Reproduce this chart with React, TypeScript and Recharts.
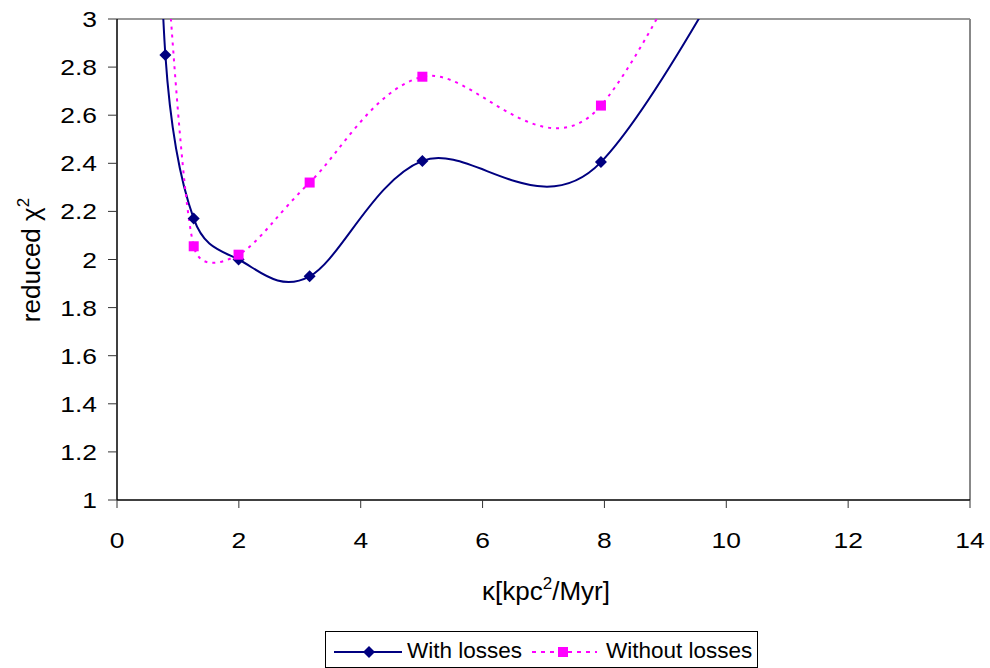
import React from "react";
import { LineChart, Line, XAxis, YAxis, Legend, ReferenceLine, Label } from "recharts";

const FONT = "'Liberation Sans', Arial, sans-serif";

// kappa values sit on a log grid (10^(n/5))
const kappa = [0.501, 0.794, 1.259, 1.995, 3.162, 5.012, 7.943, 12.59];
const withLosses = [5.0, 2.85, 2.17, 2.0, 1.93, 2.41, 2.405, 4.4];
const withoutLosses = [null, 3.3, 2.055, 2.02, 2.32, 2.76, 2.64, 5.0];

const xTicks = [0, 2, 4, 6, 8, 10, 12, 14];
const yTicks = [1, 1.2, 1.4, 1.6, 1.8, 2, 2.2, 2.4, 2.6, 2.8, 3];

const seriesLabel = ["With losses", "Without losses"];

const data = kappa.map((k, i) => ({
  k,
  withLosses: withLosses[i],
  withoutLosses: withoutLosses[i],
}));

const NAVY = "#000080";
const MAGENTA = "#FF00FF";

const dist = (a: number[], b: number[]) => Math.hypot(b[0] - a[0], b[1] - a[1]);

// Excel-like smoothing: bezier handles at 1/6 of the neighbour chord,
// shortened when the neighbour chord is much longer than the segment
const excelSmooth = (context: any) => {
  let pts: number[][] = [];
  return {
    areaStart() {},
    areaEnd() {},
    lineStart() {
      pts = [];
    },
    point(x: number, y: number) {
      pts.push([+x, +y]);
    },
    lineEnd() {
      const n = pts.length;
      if (!n) return;
      context.moveTo(pts[0][0], pts[0][1]);
      for (let i = 0; i < n - 1; i++) {
        const p0 = pts[Math.max(i - 1, 0)];
        const p1 = pts[i];
        const p2 = pts[i + 1];
        const p3 = pts[Math.min(i + 2, n - 1)];
        const d12 = dist(p1, p2);
        const d02 = dist(p0, p2);
        const d13 = dist(p1, p3);
        const f1 = d02 > 0 ? Math.min(1 / 6, (0.5 * d12) / d02) : 0;
        const f2 = d13 > 0 ? Math.min(1 / 6, (0.5 * d12) / d13) : 0;
        context.bezierCurveTo(
          p1[0] + (p2[0] - p0[0]) * f1,
          p1[1] + (p2[1] - p0[1]) * f1,
          p2[0] - (p3[0] - p1[0]) * f2,
          p2[1] - (p3[1] - p1[1]) * f2,
          p2[0],
          p2[1]
        );
      }
    },
  };
};

const Diamond = ({ cx, cy, key }: any) => {
  if (cx == null || cy == null) return null;
  return (
    <path
      key={key}
      d={`M${cx},${cy - 6}L${cx + 6},${cy}L${cx},${cy + 6}L${cx - 6},${cy}Z`}
      fill={NAVY}
    />
  );
};

const Square = ({ cx, cy, key }: any) => {
  if (cx == null || cy == null) return null;
  return <rect key={key} x={cx - 5} y={cy - 5} width={10} height={10} fill={MAGENTA} />;
};

const XTick = ({ x, y, payload }: any) => (
  <text
    transform={`translate(${x},${y + 40}) scale(1.2,1)`}
    textAnchor="middle"
    fontSize={22}
    fontFamily={FONT}
    fill="#000"
  >
    {payload.value}
  </text>
);

const YTick = ({ x, y, payload }: any) => (
  <text
    transform={`translate(${x},${y + 8}) scale(1.2,1)`}
    textAnchor="end"
    fontSize={22}
    fontFamily={FONT}
    fill="#000"
  >
    {payload.value}
  </text>
);

const XTitle = () => (
  <text x={546} y={600} textAnchor="middle" fontSize={26} fontFamily={FONT} fill="#000">
    κ[kpc<tspan dy={-11} fontSize={17}>2</tspan>
    <tspan dy={11}>/Myr]</tspan>
  </text>
);

const YTitle = () => (
  <text
    x={40}
    y={260}
    transform="rotate(-90, 40, 260)"
    textAnchor="middle"
    fontSize={26}
    fontFamily={FONT}
    fill="#000"
  >
    reduced χ<tspan dy={-11} fontSize={17}>2</tspan>
  </text>
);

const LegendBox = () => (
  <div
    style={{
      width: 433,
      height: 37,
      border: "1px solid #000",
      boxSizing: "border-box",
      background: "#fff",
    }}
  >
    <svg width={431} height={35} style={{ display: "block" }}>
      <line x1={8} x2={76} y1={20} y2={20} stroke={NAVY} strokeWidth={2} />
      <path d="M43,14L49,20L43,26L37,20Z" fill={NAVY} />
      <text x={81} y={26} fontSize={22.5} fontFamily={FONT} fill="#000">
        {seriesLabel[0]}
      </text>
      <line
        x1={206}
        x2={271}
        y1={20}
        y2={20}
        stroke={MAGENTA}
        strokeWidth={2}
        strokeDasharray="4 5"
      />
      <rect x={232} y={15} width={10} height={10} fill={MAGENTA} />
      <text x={280} y={26} fontSize={22.5} fontFamily={FONT} fill="#000">
        {seriesLabel[1]}
      </text>
    </svg>
  </div>
);

export default function App() {
  return (
    <div style={{ position: "absolute", left: 0, top: 0, background: "#fff" }}>
      <LineChart
        width={990}
        height={668}
        data={data}
        margin={{ top: 19, right: 20, bottom: 0, left: 0 }}
      >
        <XAxis
          dataKey="k"
          type="number"
          domain={[0, 14]}
          ticks={xTicks}
          allowDataOverflow
          height={131}
          tickSize={8}
          tickMargin={0}
          tick={XTick}
          axisLine={{ stroke: "#000", strokeWidth: 1.5 }}
          tickLine={{ stroke: "#333" }}
        >
          <Label content={XTitle} />
        </XAxis>
        <YAxis
          type="number"
          domain={[1, 3]}
          ticks={yTicks}
          allowDataOverflow
          width={117}
          tickSize={9}
          tickMargin={11}
          tick={YTick}
          axisLine={{ stroke: "#000", strokeWidth: 1.5 }}
          tickLine={{ stroke: "#333" }}
        >
          <Label content={YTitle} />
        </YAxis>
        <ReferenceLine y={3} stroke="#999" strokeWidth={2} />
        <ReferenceLine x={14} stroke="#888" strokeWidth={2} />
        <Line
          dataKey="withLosses"
          name={seriesLabel[0]}
          type={excelSmooth as any}
          stroke={NAVY}
          strokeWidth={2}
          dot={Diamond}
          activeDot={false}
          isAnimationActive={false}
        />
        <Line
          dataKey="withoutLosses"
          name={seriesLabel[1]}
          type={excelSmooth as any}
          stroke={MAGENTA}
          strokeWidth={2}
          strokeDasharray="3 5"
          dot={Square}
          activeDot={false}
          isAnimationActive={false}
        />
        <Legend
          verticalAlign="bottom"
          height={37}
          content={LegendBox}
          wrapperStyle={{ left: 325, bottom: 0, width: 433, height: 37 }}
        />
      </LineChart>
    </div>
  );
}
